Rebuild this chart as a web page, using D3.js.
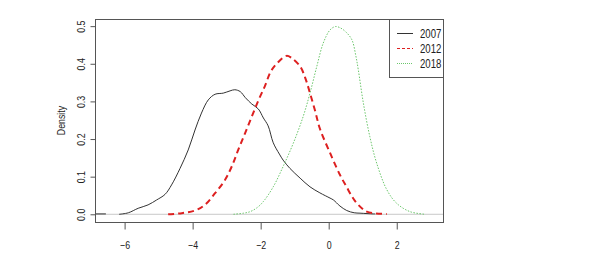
<!DOCTYPE html>
<html>
<head>
<meta charset="utf-8">
<script src="https://cdn.jsdelivr.net/npm/d3@7"></script>
<style>
  body { margin: 0; background: #fff; }
  svg text { font-family: "Liberation Sans", Arial, sans-serif; fill: #222; }
</style>
</head>
<body>
<div id="chart"></div>
<script>
// density curves, [x, density]; null = gap in the line
const years = ["2007", "2012", "2018"];
const density2007 = [
    [-6.85, 0.001], [-6.55, 0.001], null,
    [-6.16, 0], [-5.89, 0.004], [-5.6, 0.016], [-5.31, 0.025], [-5.06, 0.038],
    [-4.81, 0.053], [-4.62, 0.078], [-4.37, 0.122], [-4.13, 0.171], [-3.93, 0.224],
    [-3.74, 0.269], [-3.54, 0.304], [-3.34, 0.319], [-3.1, 0.322], [-2.9, 0.328],
    [-2.76, 0.331], [-2.6, 0.326], [-2.45, 0.31], [-2.26, 0.293], [-2.07, 0.28],
    [-1.92, 0.256], [-1.78, 0.235], [-1.63, 0.19], [-1.45, 0.16], [-1.34, 0.144],
    [-1.14, 0.122], [-0.84, 0.096], [-0.55, 0.073], [-0.26, 0.057], [0.04, 0.043],
    [0.14, 0.038], [0.33, 0.022], [0.53, 0.01], [0.75, 0.004], [0.92, 0.003],
    [1.31, 0.001], [1.37, 0.001]
];
const density2012 = [
    [-4.72, 0], [-4.32, 0.003], [-3.93, 0.01], [-3.64, 0.025], [-3.34, 0.056],
    [-3.05, 0.091], [-2.85, 0.127], [-2.66, 0.171], [-2.46, 0.215], [-2.26, 0.26],
    [-2.07, 0.302], [-1.87, 0.342], [-1.7, 0.38], [-1.5, 0.403], [-1.24, 0.421],
    [-1.1, 0.416], [-0.84, 0.393], [-0.68, 0.36], [-0.55, 0.322], [-0.4, 0.275],
    [-0.26, 0.228], [0.04, 0.163], [0.33, 0.105], [0.53, 0.072], [0.68, 0.048],
    [0.82, 0.03], [1.0, 0.014], [1.12, 0.007], [1.4, 0.002], [1.71, 0.001]
];
const density2018 = [
    [-2.8, 0], [-2.5, 0.003], [-2.31, 0.007], [-2.1, 0.018], [-1.92, 0.034],
    [-1.63, 0.073], [-1.34, 0.127], [-1.04, 0.189], [-0.75, 0.26], [-0.55, 0.322],
    [-0.35, 0.393], [-0.16, 0.455], [0.04, 0.49], [0.2, 0.499], [0.35, 0.495],
    [0.5, 0.485], [0.68, 0.464], [0.8, 0.42], [0.87, 0.384], [1.02, 0.295],
    [1.21, 0.206], [1.41, 0.136], [1.71, 0.065], [2.0, 0.029], [2.39, 0.007], [2.84, 0]
];
const xTicks = [-6, -4, -2, 0, 2];
const yTicks = [0, 0.1, 0.2, 0.3, 0.4, 0.5];

const series = [
    { name: years[0], data: density2007, color: "#333", width: 1, dash: null, legendDash: null },
    { name: years[1], data: density2012, color: "#dd2020", width: 2, dash: "6,4", legendDash: "3,2" },
    { name: years[2], data: density2018, color: "#6cc76c", width: 1, dash: "1.5,1.5", legendDash: "1,1" }
];

const W = 597, H = 275;
const margin = { top: 19, right: 154, bottom: 53, left: 95 };
const narrow = "scale(0.8,1)"; // the picture uses a condensed face

const svg = d3.select("#chart").append("svg")
    .attr("width", W)
    .attr("height", H);

const x = d3.scaleLinear().domain([-6.87, 3.36]).range([margin.left, W - margin.right]);
const y = d3.scaleLinear().domain([-0.0205, 0.519]).range([H - margin.bottom, margin.top]);

// gray zero line like R's density plot
svg.append("line")
    .attr("x1", x.range()[0]).attr("x2", x.range()[1])
    .attr("y1", y(0)).attr("y2", y(0))
    .attr("stroke", "#c8c8c8")
    .attr("stroke-width", 1);

const line = d3.line()
    .defined(d => d !== null)
    .x(d => x(d[0]))
    .y(d => y(d[1]))
    .curve(d3.curveCatmullRom.alpha(0.5));

series.forEach(s => {
    svg.append("path")
        .datum(s.data)
        .attr("d", line)
        .attr("fill", "none")
        .attr("stroke", s.color)
        .attr("stroke-width", s.width)
        .attr("stroke-dasharray", s.dash);
});

// box
svg.append("rect")
    .attr("x", margin.left + 0.5)
    .attr("y", margin.top + 0.5)
    .attr("width", W - margin.left - margin.right)
    .attr("height", H - margin.top - margin.bottom)
    .attr("fill", "none")
    .attr("stroke", "#555");

const xAxis = svg.append("g")
    .attr("transform", `translate(0,${H - margin.bottom + 0.5})`)
    .call(d3.axisBottom(x).tickValues(xTicks).tickSize(7).tickPadding(12).tickFormat(d3.format("d")));
xAxis.select(".domain").remove();
xAxis.selectAll("line").attr("stroke", "#555");
xAxis.selectAll("text")
    .attr("transform", narrow)
    .style("font-size", "11px");

const yAxis = svg.append("g")
    .attr("transform", `translate(${margin.left + 0.5},0)`)
    .call(d3.axisLeft(y).tickValues(yTicks).tickSize(5).tickFormat(d3.format(".1f")));
yAxis.select(".domain").remove();
yAxis.selectAll("line").attr("stroke", "#555");
yAxis.selectAll("text")
    .attr("transform", "rotate(-90) " + narrow)
    .attr("x", 0)
    .attr("y", -11)
    .attr("dy", 0)
    .attr("text-anchor", "middle")
    .style("font-size", "11px");

svg.append("text")
    .attr("transform", `translate(65,${(margin.top + H - margin.bottom) / 2}) rotate(-90) ${narrow}`)
    .attr("text-anchor", "middle")
    .style("font-size", "11px")
    .text("Density");

// legend
const legend = svg.append("g");
legend.append("rect")
    .attr("x", 389.5).attr("y", margin.top + 0.5)
    .attr("width", W - margin.right - 389).attr("height", 58)
    .attr("fill", "#fff")
    .attr("stroke", "#555");

series.forEach((s, i) => {
    const ly = 33.5 + i * 15;
    legend.append("line")
        .attr("x1", 397).attr("x2", 413)
        .attr("y1", ly).attr("y2", ly)
        .attr("stroke", s.color)
        .attr("stroke-width", 1)
        .attr("stroke-dasharray", s.legendDash);
    legend.append("text")
        .attr("transform", `translate(420,${ly}) ${narrow}`)
        .attr("dy", "0.35em")
        .style("font-size", "12px")
        .text(s.name);
});
</script>
</body>
</html>
